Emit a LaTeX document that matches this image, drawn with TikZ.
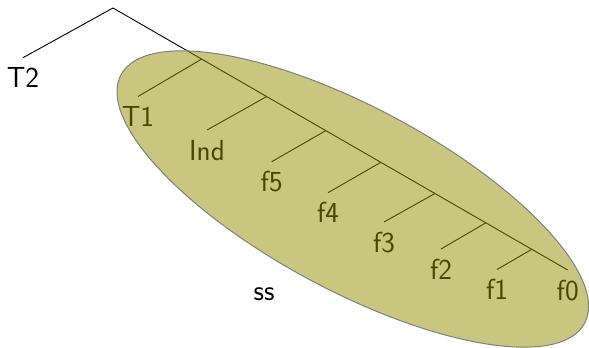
\documentclass[tikz,border=0pt]{standalone}
\usetikzlibrary{calc}
\definecolor{blobfill}{RGB}{146,141,0}
\definecolor{blobedge}{RGB}{128,128,128}
\begin{document}
\begin{tikzpicture}[x=1pt,y=-1pt,
  lbl/.style={anchor=north,inner sep=10pt,text height=20pt,text depth=0pt,
    font=\sffamily\fontsize{29}{31}\selectfont},
  branch/.style={line width=0.9pt,draw=black},
  blob/.style={fill=blobfill,fill opacity=0.5,draw=blobedge,draw opacity=1,line width=1pt}]
\useasboundingbox (0,0) rectangle (589,348);
% tree
\coordinate (r) at (113,8);
\node[lbl] (T2) at (23,57.7) {T2};
\node[lbl] (T1) at (138,96.5) {T1};
\node[lbl] (Ind) at (207,130) {Ind};
\node[lbl] (f5) at (271.7,161.7) {f5};
\node[lbl] (f4) at (328,192.7) {f4};
\node[lbl] (f3) at (384,222) {f3};
\node[lbl] (f2) at (441,249) {f2};
\node[lbl] (f1) at (497,269.5) {f1};
\node[lbl] (f0) at (567.7,270) {f0};
\path (r) -- (f0.north)
  coordinate[pos=0.195] (n1)
  coordinate[pos=0.338] (n2)
  coordinate[pos=0.468] (n3)
  coordinate[pos=0.589] (n4)
  coordinate[pos=0.708] (n5)
  coordinate[pos=0.820] (n6)
  coordinate[pos=0.921] (n7);
\draw[branch] (r) -- (T2.north);
\draw[branch] (r) -- (f0.north);
\draw[branch] (n1) -- (T1.north);
\draw[branch] (n2) -- (Ind.north);
\draw[branch] (n3) -- (f5.north);
\draw[branch] (n4) -- (f4.north);
\draw[branch] (n5) -- (f3.north);
\draw[branch] (n6) -- (f2.north);
\draw[branch] (n7) -- (f1.north);
% ellipse overlay
\draw[blob,shift={(352.8,199)},rotate=-28.2] (0,0) ellipse [x radius=263pt, y radius=91.5pt];
\node[anchor=base,inner sep=0pt,font=\sffamily\fontsize{29}{31}\selectfont] (ss) at (264,300) {ss};
\end{tikzpicture}
\end{document}
